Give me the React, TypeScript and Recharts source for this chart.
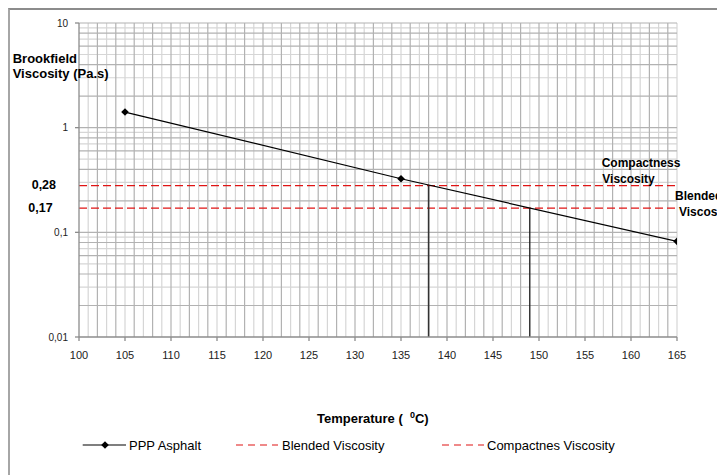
import { ComposedChart, Line, XAxis, YAxis, CartesianGrid } from 'recharts';

// PPP asphalt viscosity vs temperature
const temperature = [105, 135, 165];
const viscosity = [1.41, 0.325, 0.082];

// target viscosities and the temperatures
const compactVisc = 0.28;
const compactTemp = 138;
const blendVisc = 0.17;
const blendTemp = 149;

const xTicks = [100, 105, 110, 115, 120, 125, 130, 135, 140, 145, 150, 155, 160, 165];
const yTicks = [0.01, 0.1, 1, 10];

const pppData = temperature.map((t, i) => ({ t, v: viscosity[i] }));
const compactData = [{ t: 100, v: compactVisc }, { t: 165, v: compactVisc }];
const blendData = [{ t: 100, v: blendVisc }, { t: 165, v: blendVisc }];
const compactDrop = [{ t: compactTemp, v: compactVisc }, { t: compactTemp, v: 0.01 }];
const blendDrop = [{ t: blendTemp, v: blendVisc }, { t: blendTemp, v: 0.01 }];

// grid positions (1 degree and log minors)
const degrees = Array.from({ length: 65 }, (_, i) => 101 + i);
const xGridLight = degrees.filter((d) => d % 2 === 1);
const xGridDark = degrees.filter((d) => d % 2 === 0);
const decades = [0.01, 0.1, 1];
const yGridLight: number[] = [];
const yGridDark: number[] = [0.1, 1, 10];
decades.forEach((d) => {
  [2, 3, 4, 5, 6, 7, 8, 9].forEach((m) => {
    (m % 2 === 0 ? yGridDark : yGridLight).push(+(d * m).toPrecision(3));
  });
});

const RED = '#e01414';
const font = 'Arial, "Liberation Sans", sans-serif';

const Diamond = (props: any) => {
  const { cx, cy, index } = props;
  if (cx == null || cy == null) return null;
  const r = 3.8;
  return (
    <polygon
      key={`d-${index}`}
      points={`${cx},${cy - r} ${cx + r},${cy} ${cx},${cy + r} ${cx - r},${cy}`}
      fill="#000"
    />
  );
};

const fmt = (v: number) => String(v).replace('.', ',');

export default function App() {
  return (
    <div style={{ position: 'relative', width: 717, height: 467, overflow: 'hidden', fontFamily: font }}>
      <div
        style={{
          position: 'absolute',
          left: 0,
          top: 0,
          width: 800,
          height: 600,
          borderLeft: '2px solid #a6a6a6',
          borderTop: '2px solid #8c8c8c',
        }}
      />
      <div style={{ position: 'absolute', left: 0, top: 0 }}>
        <ComposedChart width={717} height={467} margin={{ top: 15, right: 48, bottom: 108, left: 0 }}>
          <CartesianGrid
            stroke="#d6d6d6"
            strokeWidth={1.2}
            fill="none"
            verticalValues={xGridLight}
            horizontalValues={yGridLight}
          />
          <CartesianGrid
            stroke="#b2b2b2"
            strokeWidth={1.2}
            fill="none"
            verticalValues={xGridDark}
            horizontalValues={yGridDark}
          />
          <XAxis
            dataKey="t"
            type="number"
            domain={[100, 165]}
            ticks={xTicks}
            interval={0}
            height={30}
            tickSize={4}
            tickMargin={10}
            stroke="#8c8c8c"
            strokeWidth={1.3}
            tick={{ fill: '#222', fontSize: 11, fontFamily: font }}
            allowDataOverflow
          />
          <YAxis
            dataKey="v"
            type="number"
            scale="log"
            domain={[0.01, 10]}
            ticks={yTicks}
            interval={0}
            width={71}
            tickSize={4}
            tickMargin={7}
            stroke="#8c8c8c"
            strokeWidth={1.3}
            tickFormatter={fmt}
            tick={{ fill: '#222', fontSize: 10, fontFamily: font }}
            allowDataOverflow
          />
          <Line
            data={compactData}
            dataKey="v"
            stroke={RED}
            strokeWidth={1.2}
            strokeDasharray="8 4"
            dot={false}
            isAnimationActive={false}
          />
          <Line
            data={blendData}
            dataKey="v"
            stroke={RED}
            strokeWidth={1.2}
            strokeDasharray="8 4"
            dot={false}
            isAnimationActive={false}
          />
          <Line
            data={compactDrop}
            dataKey="v"
            stroke="#333"
            strokeWidth={1.6}
            dot={false}
            isAnimationActive={false}
          />
          <Line
            data={blendDrop}
            dataKey="v"
            stroke="#000"
            strokeWidth={1.1}
            dot={false}
            isAnimationActive={false}
          />
          <Line
            data={pppData}
            dataKey="v"
            stroke="#000"
            strokeWidth={1.2}
            dot={Diamond}
            isAnimationActive={false}
          />
        </ComposedChart>
      </div>
      <svg
        width={717}
        height={467}
        style={{ position: 'absolute', left: 0, top: 0, pointerEvents: 'none' }}
        fontFamily={font}
      >
        <g fontWeight="bold" fontSize={13} fill="#000">
          <text x={4.7} y={54.7}>Brookfield</text>
          <text x={4.7} y={69.5}>Viscosity (Pa.s)</text>
          <text x={23.7} y={181.3} fontSize={12.5}>0,28</text>
          <text x={20.3} y={203.7} fontSize={12.5}>0,17</text>
        </g>
        <g fontWeight="bold" fontSize={12} fill="#000">
          <text x={593.7} y={159.3}>Compactness</text>
          <text x={594.3} y={175.3}>Viscosity</text>
          <text x={667} y={192}>Blended</text>
          <text x={671} y={208}>Viscosity</text>
        </g>
        <text x={309} y={415.3} fontWeight="bold" fontSize={13} fill="#000">
          {'Temperature (\u00a0\u00a0'}
          <tspan fontSize={9} dy={-5}>0</tspan>
          <tspan dy={5}>C)</tspan>
        </text>
        <g fontSize={13} fill="#000">
          <line x1={74.7} y1={437} x2={118} y2={437} stroke="#000" strokeWidth={1.2} />
          <polygon points="97,433.2 100.8,437 97,440.8 93.2,437" fill="#000" />
          <text x={121} y={441.5}>PPP Asphalt</text>
          <line x1={228} y1={437} x2={270} y2={437} stroke={RED} strokeWidth={1.2} strokeDasharray="7 5" />
          <text x={274} y={441.5}>Blended Viscosity</text>
          <line x1={434} y1={437} x2={476} y2={437} stroke={RED} strokeWidth={1.2} strokeDasharray="7 5" />
          <text x={479} y={441.5}>Compactnes Viscosity</text>
        </g>
      </svg>
    </div>
  );
}
